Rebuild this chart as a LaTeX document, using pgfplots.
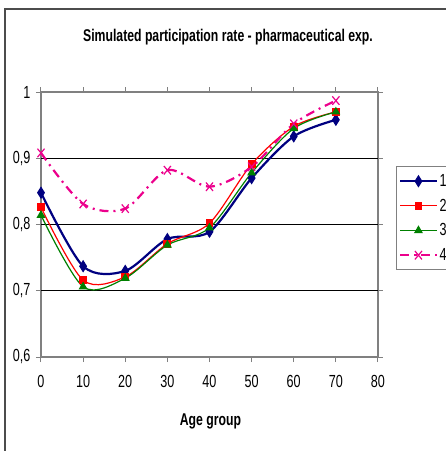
\documentclass[border=0pt]{standalone}
\usepackage{fontspec}
\setmainfont{Liberation Sans}[FakeStretch=0.72]
\usepackage{pgfplots}
\pgfplotsset{compat=1.18}
\definecolor{navy}{RGB}{0,0,128}
\definecolor{excgreen}{RGB}{0,128,0}
\definecolor{frame}{RGB}{128,128,128}
\begin{document}
\begin{tikzpicture}[x=1pt,y=1pt]
\path[use as bounding box] (0,0) rectangle (446,451);
\draw[line width=1.5pt, color=black!70] (5,-5) -- (5,442) -- (452,442);
\node[font=\fontsize{17}{18}\selectfont\bfseries] at (228,414) {Simulated participation rate - pharmaceutical exp.};
\begin{axis}[
  at={(41pt,94pt)}, anchor=south west,
  scale only axis, width=337pt, height=265pt,
  xmin=0, xmax=80, ymin=0.6, ymax=1,
  xtick={0,10,...,80}, ytick={0.6,0.7,0.8,0.9,1},
  yticklabels={0{,}6,0{,}7,0{,}8,0{,}9,1},
  extra y ticks={0.7,0.8,0.9}, extra y tick labels={},
  extra y tick style={ymajorgrids=true, major grid style={black, line width=1.1pt}, major tick length=0pt},
  axis line style={frame, line width=1.2pt},
  tick align=outside, major tick length=5pt,
  tick style={frame, line width=1pt},
  ticklabel style={font=\fontsize{17.5}{18}\selectfont},
  /pgf/number format/assume math mode=true,
  xticklabel style={yshift=-10pt},
  yticklabel style={xshift=-2pt},
  xlabel={Age group},
  xlabel style={font=\fontsize{17}{18}\selectfont\bfseries, at={(axis description cs:0.5,0)}, anchor=center, yshift=-64pt, xshift=1pt},
  clip=false,
  legend style={at={(axis description cs:1.053,0.721)}, anchor=north west, draw=frame, line width=1pt,
    font=\fontsize{17.5}{18}\selectfont, inner xsep=3pt, inner ysep=6pt, row sep=7pt, cells={anchor=west}},
  legend image code/.code={\draw[mark repeat=2,mark phase=2] plot coordinates {(0pt,0pt) (18pt,0pt) (36pt,0pt)};},
  legend cell align=left,
]
\addplot[navy, line width=2.2pt, smooth, tension=0.5, mark=diamond*, mark size=4.5pt, mark options={solid, fill=navy, yscale=1.2, line width=1pt}]
  coordinates {(0,0.848)(10,0.737)(20,0.730)(30,0.778)(40,0.789)(50,0.870)(60,0.933)(70,0.958)};
\addlegendentry{1}
\addplot[red, line width=1.2pt, smooth, tension=0.5, mark=square*, mark size=3.3pt, mark options={solid, fill=red}]
  coordinates {(0,0.826)(10,0.716)(20,0.721)(30,0.771)(40,0.802)(50,0.891)(60,0.948)(70,0.970)};
\addlegendentry{2}
\addplot[excgreen, line width=1.2pt, smooth, tension=0.5, mark=triangle*, mark size=4pt, mark options={solid, fill=excgreen}]
  coordinates {(0,0.814)(10,0.706)(20,0.719)(30,0.769)(40,0.795)(50,0.878)(60,0.945)(70,0.970)};
\addlegendentry{3}
\addplot[magenta, line width=2.2pt, smooth, tension=0.5, dash pattern=on 9pt off 5pt on 2pt off 5pt, mark=x, mark size=5pt, mark options={solid, line width=1.2pt, yscale=1.2}]
  coordinates {(0,0.908)(10,0.831)(20,0.824)(30,0.882)(40,0.857)(50,0.887)(60,0.952)(70,0.987)};
\addlegendentry{4}
\end{axis}
\end{tikzpicture}
\end{document}
